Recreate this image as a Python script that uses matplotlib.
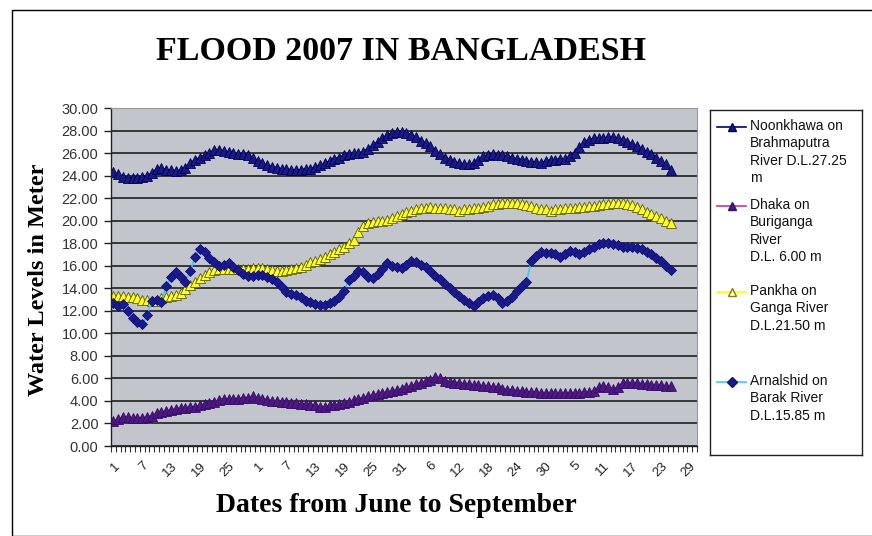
import numpy as np
import matplotlib
matplotlib.use('Agg')
import matplotlib.pyplot as plt
from matplotlib.patches import Rectangle
from matplotlib.lines import Line2D

# categories: every day from 1 June to 30 September 2007
month_days = [30, 31, 31, 30]
day_labels = [str(d) for m in month_days for d in range(1, m + 1)]

# water levels (m), one value per day from 1 June to 25 September
noonkhawa = [24.3, 24.1, 23.9, 23.8, 23.8, 23.8, 23.9, 24.0, 24.2, 24.6,
             24.7, 24.5, 24.5, 24.4, 24.5, 24.7, 25.1, 25.4, 25.6, 25.8,
             26.0, 26.3, 26.3, 26.2, 26.1, 26.0, 25.9, 25.9, 25.8, 25.6,
             25.3, 25.1, 24.9, 24.8, 24.7, 24.6, 24.6, 24.5, 24.5, 24.5,
             24.6, 24.6, 24.8, 24.9, 25.1, 25.3, 25.5, 25.6, 25.8, 25.9,
             26.0, 26.0, 26.1, 26.4, 26.7, 27.0, 27.3, 27.6, 27.8, 27.9,
             27.9, 27.8, 27.6, 27.4, 27.1, 26.9, 26.6, 26.2, 25.9, 25.6,
             25.4, 25.2, 25.1, 25.0, 25.0, 25.1, 25.4, 25.7, 25.8, 25.9,
             25.8, 25.8, 25.7, 25.6, 25.5, 25.4, 25.3, 25.2, 25.2, 25.1,
             25.3, 25.4, 25.4, 25.5, 25.5, 25.7, 26.0, 26.5, 27.0, 27.2,
             27.3, 27.3, 27.3, 27.4, 27.4, 27.3, 27.2, 27.0, 26.8, 26.6,
             26.4, 26.1, 25.9, 25.6, 25.3, 25.0, 24.5]

dhaka = [2.2, 2.4, 2.6, 2.6, 2.5, 2.5, 2.5, 2.6, 2.7, 2.9,
         3.0, 3.1, 3.2, 3.3, 3.4, 3.4, 3.5, 3.5, 3.6, 3.7,
         3.8, 3.9, 4.1, 4.2, 4.2, 4.2, 4.2, 4.3, 4.3, 4.4,
         4.3, 4.2, 4.1, 4.0, 4.0, 3.9, 3.9, 3.8, 3.8, 3.7,
         3.7, 3.6, 3.6, 3.5, 3.5, 3.6, 3.6, 3.7, 3.8, 3.9,
         4.1, 4.2, 4.3, 4.4, 4.5, 4.6, 4.7, 4.8, 4.9, 5.0,
         5.1, 5.2, 5.3, 5.5, 5.6, 5.8, 5.9, 6.1, 6.0, 5.8,
         5.7, 5.6, 5.6, 5.5, 5.5, 5.4, 5.4, 5.3, 5.3, 5.2,
         5.2, 5.1, 5.0, 5.0, 4.9, 4.9, 4.8, 4.8, 4.8, 4.7,
         4.7, 4.7, 4.7, 4.7, 4.7, 4.7, 4.7, 4.7, 4.8, 4.8,
         4.9, 5.2, 5.3, 5.2, 5.1, 5.2, 5.6, 5.6, 5.6, 5.6,
         5.5, 5.5, 5.4, 5.4, 5.4, 5.3, 5.3]

pankha = [13.3, 13.3, 13.3, 13.2, 13.2, 13.1, 13.0, 13.0, 12.9, 12.9,
          13.1, 13.2, 13.3, 13.4, 13.6, 13.9, 14.3, 14.6, 14.9, 15.2,
          15.4, 15.6, 15.7, 15.7, 15.7, 15.7, 15.7, 15.7, 15.7, 15.8,
          15.8, 15.8, 15.7, 15.6, 15.5, 15.5, 15.6, 15.7, 15.8, 15.9,
          16.1, 16.3, 16.4, 16.6, 16.8, 17.0, 17.2, 17.5, 17.7, 18.0,
          18.3, 19.0, 19.5, 19.8, 19.9, 20.0, 20.0, 20.1, 20.2, 20.4,
          20.6, 20.8, 20.9, 21.0, 21.1, 21.1, 21.2, 21.1, 21.1, 21.1,
          21.0, 21.0, 20.9, 21.0, 21.0, 21.1, 21.1, 21.2, 21.3, 21.5,
          21.5, 21.6, 21.6, 21.6, 21.6, 21.5, 21.4, 21.3, 21.1, 21.0,
          21.0, 20.9, 21.0, 21.0, 21.1, 21.1, 21.1, 21.2, 21.2, 21.3,
          21.3, 21.4, 21.5, 21.5, 21.6, 21.6, 21.6, 21.5, 21.4, 21.2,
          21.0, 20.8, 20.6, 20.4, 20.2, 20.0, 19.8]

arnalshid = [12.7, 12.4, 12.6, 12.0, 11.4, 11.0, 10.8, 11.6, 12.9, 13.0,
             12.8, 14.2, 15.0, 15.4, 15.0, 14.6, 15.5, 16.8, 17.5, 17.2,
             16.7, 16.3, 16.0, 16.1, 16.2, 15.9, 15.6, 15.3, 15.1, 15.1,
             15.2, 15.2, 15.0, 14.8, 14.6, 14.1, 13.7, 13.5, 13.4, 13.2,
             12.9, 12.8, 12.6, 12.5, 12.5, 12.7, 12.9, 13.2, 13.8, 14.7,
             15.1, 15.5, 15.4, 15.0, 14.9, 15.3, 15.7, 16.2, 16.0, 15.9,
             15.8, 16.1, 16.4, 16.3, 16.1, 15.9, 15.5, 15.1, 14.8, 14.4,
             14.0, 13.7, 13.3, 13.0, 12.7, 12.4, 12.8, 13.1, 13.3, 13.4,
             13.1, 12.7, 12.9, 13.2, 13.8, 14.2, 14.6, 16.4, 16.9, 17.2,
             17.1, 17.1, 17.0, 16.8, 17.0, 17.3, 17.2, 17.0, 17.2, 17.5,
             17.7, 17.9, 18.0, 18.0, 17.9, 17.8, 17.7, 17.7, 17.7, 17.6,
             17.5, 17.2, 17.0, 16.7, 16.4, 16.0, 15.6]

legend_texts = ["Noonkhawa on\nBrahmaputra\nRiver D.L.27.25\nm",
                "Dhaka on\nBuriganga\nRiver\nD.L. 6.00 m",
                "Pankha on\nGanga River\nD.L.21.50 m",
                "Arnalshid on\nBarak River\nD.L.15.85 m"]

# style for each series: line colour, marker, face, edge
styles = [dict(color='#000080', marker='^', mfc='#1a1a80', mec='#000060', ms=6.5),
          dict(color='#cc3399', marker='^', mfc='#4b1a80', mec='#3a0a6a', ms=6.5),
          dict(color='#ffff00', marker='^', mfc='#ffff20', mec='#5a5a10', ms=6.5),
          dict(color='#33ccff', marker='D', mfc='#1a1a8c', mec='#10107a', ms=5.5)]
series = [noonkhawa, dhaka, pankha, arnalshid]

W, H = 872, 536
fig = plt.figure(figsize=(W / 100, H / 100), dpi=100)
fig.patch.set_facecolor('white')
fig.add_artist(Rectangle((12 / W, 0), 1.0, 1 - 10 / H, transform=fig.transFigure,
                         fill=False, edgecolor='black', linewidth=1.0))

ax = fig.add_axes([111 / W, 1 - 446 / H, (697 - 111) / W, (446 - 108) / H])
ax.set_facecolor('#c2c6cc')

for vals, st in zip(series, styles):
    x = np.arange(len(vals))
    ax.plot(x, vals, color=st['color'], lw=1.2, marker=st['marker'],
            markersize=st['ms'], markerfacecolor=st['mfc'],
            markeredgecolor=st['mec'], markeredgewidth=0.6)

n = len(day_labels)
ax.set_xlim(-0.5, n - 0.5)
ax.set_ylim(0, 30)
yt = np.arange(0, 31, 2)
ax.set_yticks(yt)
ax.set_yticklabels(['%.2f' % v for v in yt], fontsize=10.5, color='#333333',
                   family='Liberation Sans')
ax.yaxis.grid(True, color='#1e1e1e', lw=1.2)
ax.set_axisbelow(True)
ax.tick_params(axis='y', length=5, width=1, color='#222222', pad=4)

major = np.arange(0, n, 6)
ax.set_xticks(major)
ax.set_xticklabels([day_labels[i] for i in major], rotation=45, ha='right',
                   va='top', rotation_mode='anchor', fontsize=9.5, color='#222222',
                   family='Liberation Sans')
ax.set_xticks(np.arange(-0.5, n, 1), minor=True)
ax.tick_params(axis='x', which='major', length=0, pad=10)
ax.tick_params(axis='x', which='minor', length=4, width=0.8, color='#333333')

for s in ['top', 'right']:
    ax.spines[s].set_color('#999999')
    ax.spines[s].set_linewidth(0.8)
for s in ['left', 'bottom']:
    ax.spines[s].set_color('#222222')
    ax.spines[s].set_linewidth(1.0)

fig.text(401 / W, 1 - 52 / H, 'FLOOD 2007 IN BANGLADESH', ha='center', va='center',
         fontsize=24.5, fontweight='bold', family='Liberation Serif')
fig.text(396 / W, 1 - 505 / H, 'Dates from June to September', ha='center', va='center',
         fontsize=20, fontweight='bold', family='Liberation Serif')
fig.text(38 / W, 1 - 280 / H, 'Water Levels in Meter', ha='center', va='center',
         rotation=90, fontsize=17.5, fontweight='bold', family='Liberation Serif')

# legend drawn by hand so the handle sits on the first text line
lax = fig.add_axes([710 / W, 1 - 455 / H, (862 - 710) / W, (455 - 110) / H])
lax.set_xlim(710, 862)
lax.set_ylim(455, 110)
lax.set_xticks([])
lax.set_yticks([])
for s in lax.spines.values():
    s.set_color('#222222')
    s.set_linewidth(1.0)
entry_y = [127, 206, 292, 382]
for ey, txt, st in zip(entry_y, legend_texts, styles):
    lax.add_line(Line2D([717, 746], [ey, ey], color=st['color'], lw=1.2))
    lax.add_line(Line2D([731.5], [ey], marker=st['marker'],
                        markersize=5.5 if st['marker'] == '^' else 5,
                        markerfacecolor=st['mfc'] if st['color'] != '#ffff00' else 'none',
                        markeredgecolor=st['mec'] if st['color'] != '#ffff00' else '#8a7a00',
                        lw=0))
    lax.text(750, ey - 8, txt, ha='left', va='top', fontsize=10,
             family='Liberation Sans', color='#111111', linespacing=1.3)

fig.savefig('out.png', dpi=100)
